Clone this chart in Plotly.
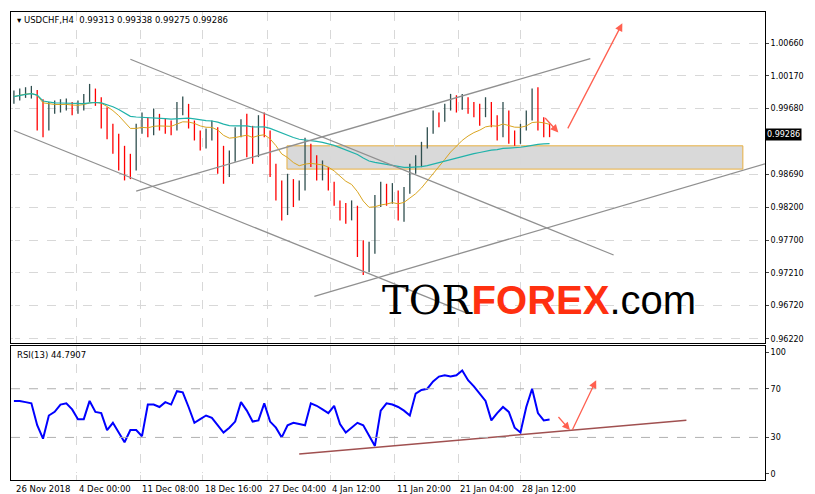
import plotly.graph_objects as go
import pandas as pd

closes = [0.9986,0.9990,0.9992,0.9993,0.9980,0.9938,0.9968,0.9971,0.9974,0.9975,
          0.9968,0.9971,0.9980,0.9990,0.9983,0.9968,0.9941,0.9926,0.9909,0.9882,
          0.9879,0.9938,0.9950,0.9935,0.9956,0.9946,0.9941,0.9938,0.9968,0.9971,
          0.9946,0.9931,0.9916,0.9926,0.9938,0.9909,0.9872,0.9894,0.9931,0.9941,
          0.9938,0.9901,0.9946,0.9938,0.9879,0.9842,0.9812,0.9857,0.9834,0.9849,
          0.9901,0.9894,0.9872,0.9879,0.9857,0.9834,0.9812,0.9805,0.9820,0.9768,
          0.9730,0.9753,0.9827,0.9842,0.9834,0.9842,0.9812,0.9842,0.9879,0.9886,
          0.9909,0.9931,0.9953,0.9950,0.9968,0.9980,0.9975,0.9980,0.9972,0.9968,
          0.9961,0.9975,0.9953,0.9938,0.9968,0.9926,0.9923,0.9938,0.9956,0.9983,
          0.9953,0.9938,0.99286]
highs = [0.9995,0.9998,1.0000,1.0002,0.9996,0.9982,0.9978,0.9980,0.9982,0.9983,
         0.9978,0.9980,0.9990,1.0005,0.9998,0.9985,0.9970,0.9945,0.9930,0.9912,
         0.9900,0.9945,0.9962,0.9955,0.9968,0.9960,0.9953,0.9950,0.9978,0.9986,
         0.9975,0.9950,0.9935,0.9938,0.9950,0.9940,0.9912,0.9905,0.9940,0.9952,
         0.9960,0.9942,0.9958,0.9962,0.9935,0.9885,0.9860,0.9870,0.9862,0.9860,
         0.9924,0.9915,0.9898,0.9890,0.9880,0.9858,0.9830,0.9826,0.9830,0.9822,
         0.9770,0.9768,0.9838,0.9858,0.9855,0.9856,0.9845,0.9850,0.9885,0.9898,
         0.9918,0.9940,0.9965,0.9962,0.9975,0.9990,0.9988,0.9990,0.9985,0.9978,
         0.9975,0.9985,0.9978,0.9958,0.9978,0.9965,0.9935,0.9945,0.9965,0.9998,
         1.0000,0.9955,0.9945]
lows = [0.9975,0.9980,0.9984,0.9983,0.9935,0.9925,0.9935,0.9960,0.9962,0.9965,
        0.9958,0.9960,0.9965,0.9978,0.9972,0.9938,0.9922,0.9900,0.9875,0.9860,
        0.9862,0.9875,0.9930,0.9925,0.9928,0.9935,0.9930,0.9928,0.9935,0.9958,
        0.9938,0.9920,0.9905,0.9908,0.9920,0.9870,0.9855,0.9865,0.9888,0.9925,
        0.9895,0.9885,0.9895,0.9925,0.9865,0.9830,0.9800,0.9808,0.9820,0.9830,
        0.9845,0.9880,0.9860,0.9860,0.9845,0.9822,0.9800,0.9795,0.9800,0.9745,
        0.9718,0.9722,0.9750,0.9820,0.9822,0.9825,0.9800,0.9798,0.9840,0.9870,
        0.9880,0.9908,0.9930,0.9940,0.9948,0.9965,0.9962,0.9966,0.9960,0.9955,
        0.9942,0.9955,0.9940,0.9920,0.9925,0.9915,0.9912,0.9915,0.9935,0.9950,
        0.9935,0.9925,0.9925]
rsi = [60,60,59,58,40,29,48,51,57,58,53,45,45,60,51,50,36,42,34,26,
       36,36,31,57,57,55,59,57,68,67,55,42,45,48,46,40,34,38,43,59,
       52,43,44,58,43,38,30,40,42,41,40,58,56,53,50,56,41,34,38,42,
       40,31,23,52,58,57,55,52,48,66,69,70,76,80,81,80,81,85,77,72,
       66,60,44,50,55,51,38,34,55,70,50,44,44.79]
tick_pos = [0, 10.8, 21.7, 32.4, 43.5, 54.3, 65.4, 76.3, 87.0]
tick_text = ["26 Nov 2018", "4 Dec 00:00", "11 Dec 08:00", "18 Dec 16:00", "27 Dec 04:00",
             "4 Jan 12:00", "11 Jan 20:00", "21 Jan 04:00", "28 Jan 12:00"]
price_ticks = [0.96220, 0.96720, 0.97210, 0.97700, 0.98200, 0.98690, 0.99680, 1.00170, 1.00660]
price_tick_text = ["0.96220", "0.96720", "0.97210", "0.97700", "0.98200", "0.98690", "0.99680", "1.00170", "1.00660"]
# drawings (x in bar index, y in price)
price_lines = [((21.0, 0.98440), (99.0, 1.00430)),
               ((51.6, 0.96860), (129.0, 0.98850)),
               ((20.0, 1.00420), (103.0, 0.97480)),
               ((0.0, 0.99350), (78.0, 0.96600))]
zone = (46.9, 125.2, 0.98770, 0.99120)
rsi_line = ((49.0, 16.4), (115.5, 44.0))

x = list(range(len(closes)))
opens = [closes[0]] + closes[:-1]
s = pd.Series(closes)
ma_fast = s.ewm(span=15).mean()
ma_slow = s.ewm(span=80).mean()

fig = go.Figure()
fig.add_trace(go.Ohlc(x=x, open=opens, high=highs, low=lows, close=closes,
                      increasing_line_color="#2F4F4F", decreasing_line_color="#FF0000",
                      line_width=1.3, tickwidth=0, xaxis="x", yaxis="y", showlegend=False, hoverinfo="skip"))
fig.add_trace(go.Scatter(x=x, y=ma_fast, mode="lines", line=dict(color="#DAA520", width=1), xaxis="x", yaxis="y", showlegend=False))
fig.add_trace(go.Scatter(x=x, y=ma_slow, mode="lines", line=dict(color="#20B2AA", width=1.2), xaxis="x", yaxis="y", showlegend=False))
fig.add_trace(go.Scatter(x=x, y=rsi, mode="lines", line=dict(color="#0000FF", width=2), xaxis="x2", yaxis="y2", showlegend=False))

shapes = []
for (a, b) in price_lines:
    shapes.append(dict(type="line", xref="x", yref="y", x0=a[0], y0=a[1], x1=b[0], y1=b[1],
                       line=dict(color="#909090", width=1.3)))
shapes.append(dict(type="rect", xref="x", yref="y", x0=zone[0], x1=zone[1], y0=zone[2], y1=zone[3],
                   fillcolor="rgba(170,170,170,0.45)", line=dict(color="#E8B040", width=1), layer="below"))
shapes.append(dict(type="line", xref="x2", yref="y2", x0=rsi_line[0][0], y0=rsi_line[0][1],
                   x1=rsi_line[1][0], y1=rsi_line[1][1], line=dict(color="#A05050", width=1.5)))
for lv in [30, 70]:
    shapes.append(dict(type="line", xref="x2 domain", yref="y2", x0=0, x1=1, y0=lv, y1=lv,
                       line=dict(color="#B0B0B0", width=1, dash="dash")))
fig.update_layout(shapes=shapes)

red = "#FF6050"
anns = [
    dict(x=93.5, y=0.99320, ax=91.0, ay=0.99560, xref="x", yref="y", axref="x", ayref="y"),
    dict(x=104.5, y=1.00960, ax=95.0, ay=0.99360, xref="x", yref="y", axref="x", ayref="y"),
    dict(x=95.5, y=36, ax=93.3, ay=48, xref="x2", yref="y2", axref="x2", ayref="y2"),
    dict(x=100.0, y=77, ax=95.8, ay=35, xref="x2", yref="y2", axref="x2", ayref="y2"),
]
for a in anns:
    fig.add_annotation(**a, showarrow=True, arrowhead=2, arrowsize=1.2, arrowwidth=1.3,
                       arrowcolor=red, text="")
for tp, tt in zip(tick_pos, tick_text):
    fig.add_annotation(x=tp, y=0, xref="x2", yref="paper", text=tt, showarrow=False,
                       xanchor="left", yanchor="top", yshift=-2, font=dict(size=8.5, color="black"))
fig.add_annotation(x=0.005, y=0.997, xref="paper", yref="paper", xanchor="left", yanchor="top",
                   text="▾ USDCHF,H4  0.99313 0.99338 0.99275 0.99286", showarrow=False,
                   font=dict(size=8.5, color="black"))
fig.add_annotation(x=0.005, y=0.283, xref="paper", yref="paper", xanchor="left", yanchor="top",
                   text="RSI(13) 44.7907", showarrow=False, font=dict(size=8.5, color="black"))
fig.add_annotation(x=1.0, y=closes[-1], xref="paper", yref="y", xanchor="left", text="0.99286",
                   showarrow=False, bgcolor="black", font=dict(size=8, color="white"), borderpad=1)
fig.add_annotation(x=0.49, y=0.385, xref="paper", yref="paper", xanchor="left", yanchor="middle",
                   text="<span style='font-family:DejaVu Serif;color:black'>TOR</span><b><span style='color:#FF3010'>FOREX</span></b><span style='color:black'>.com</span>",
                   showarrow=False, font=dict(size=40, family="Liberation Sans"))

grid = dict(showgrid=True, gridcolor="#D8D8D8", griddash="dash", gridwidth=1)
fig.update_layout(
    width=815, height=494, paper_bgcolor="white", plot_bgcolor="white",
    margin=dict(l=3, r=58, t=4, b=22),
    font=dict(family="DejaVu Sans", size=8, color="black"),
    xaxis=dict(domain=[0, 1], range=[-0.5, 129], showticklabels=False, tickvals=tick_pos,
               showline=True, linecolor="black", mirror=True, anchor="y", rangeslider=dict(visible=False), **grid),
    xaxis2=dict(domain=[0, 1], range=[-0.5, 129], showticklabels=False, tickvals=tick_pos, matches="x",
                showline=True, linecolor="black", mirror=True, anchor="y2", **grid),
    yaxis=dict(domain=[0.293, 1], range=[0.9616, 1.0113], side="right", tickvals=price_ticks,
               ticktext=price_tick_text, showline=True, linecolor="black", mirror=True, ticks="outside",
               ticklen=3, automargin=False, **grid),
    yaxis2=dict(domain=[0, 0.286], range=[-5, 105], side="right", tickvals=[0, 30, 70, 100],
                showline=True, linecolor="black", mirror=True, ticks="outside", ticklen=3, showgrid=False,
                automargin=False),
)
fig.write_html("out.html")
